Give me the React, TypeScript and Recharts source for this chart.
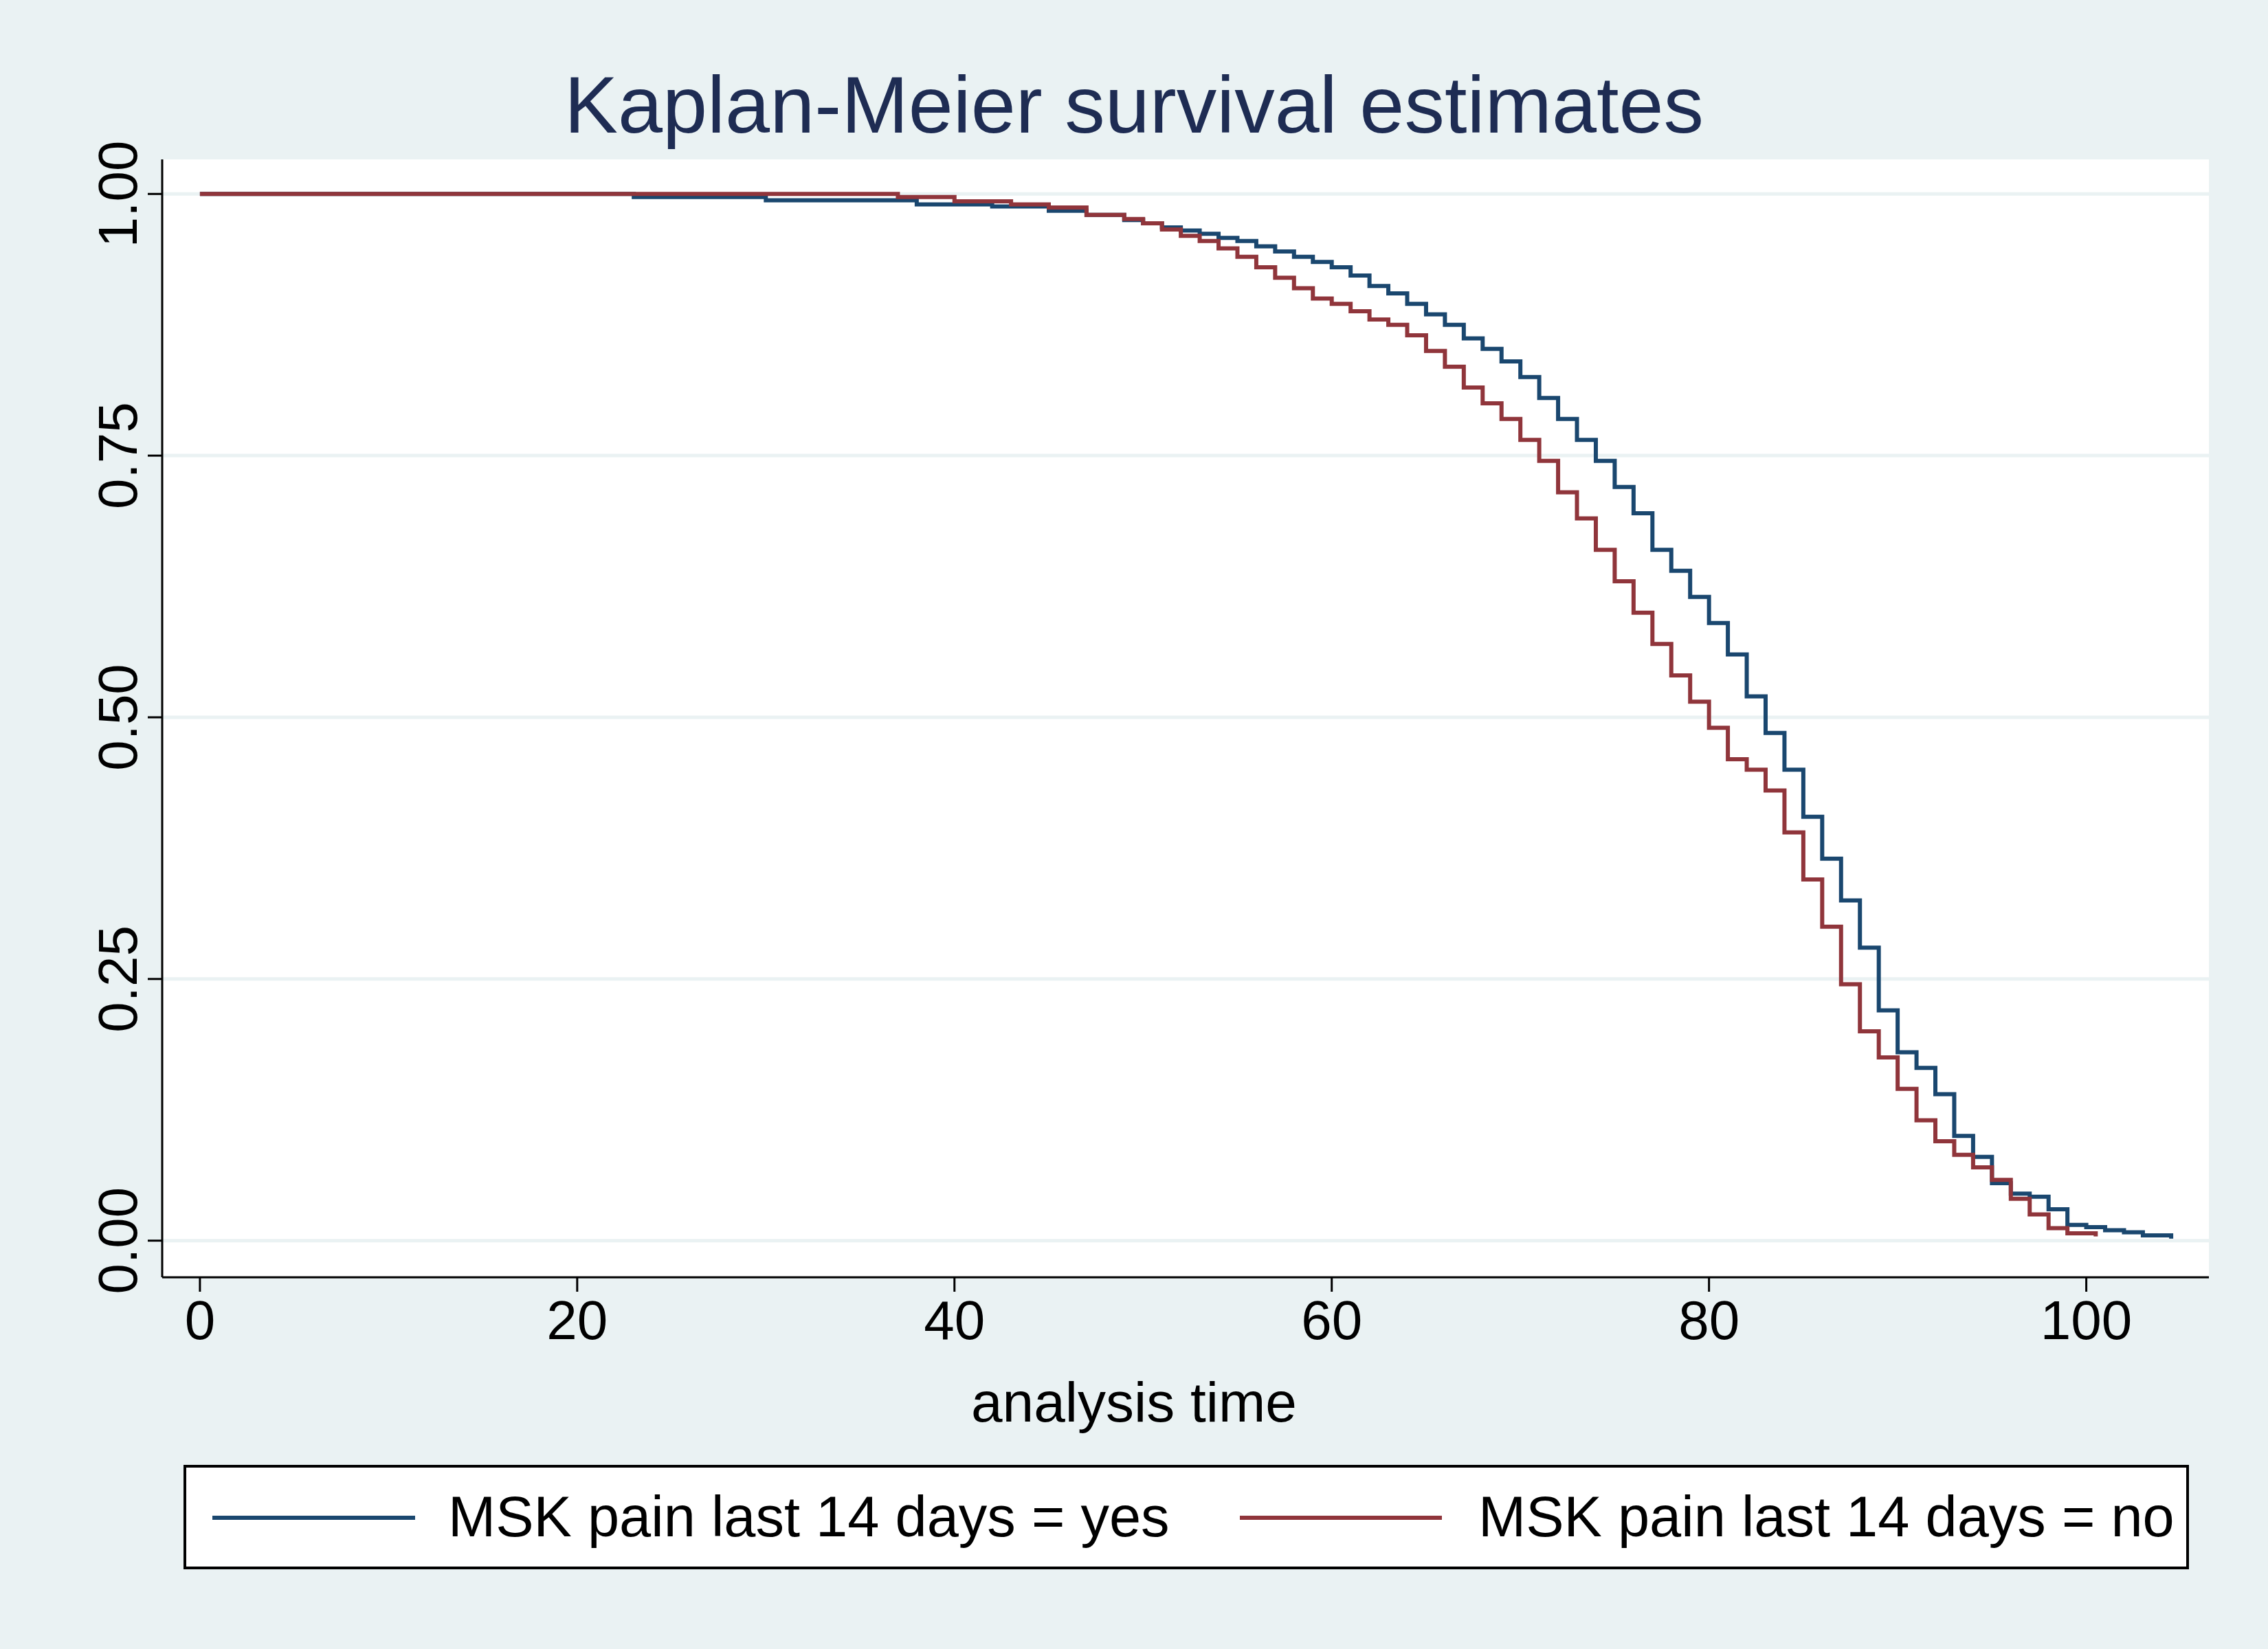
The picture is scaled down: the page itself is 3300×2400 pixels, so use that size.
import { LineChart, Line, XAxis, YAxis, CartesianGrid } from "recharts";

const yesTime = [0, 23, 30, 38, 42, 45, 47, 49, 50, 51, 52, 53, 54, 55, 56, 57, 58, 59, 60, 61, 62, 63, 64, 65, 66, 67, 68, 69, 70, 71, 72, 73, 74, 75, 76, 77, 78, 79, 80, 81, 82, 83, 84, 85, 86, 87, 88, 89, 90, 91, 92, 93, 94, 95, 96, 97, 98, 99, 100, 101, 102, 103, 104.5];
const yesSurv = [1, 0.997, 0.994, 0.99, 0.988, 0.984, 0.98, 0.975, 0.972, 0.968, 0.965, 0.962, 0.958, 0.955, 0.95, 0.945, 0.94, 0.935, 0.93, 0.922, 0.912, 0.905, 0.895, 0.885, 0.875, 0.862, 0.852, 0.84, 0.825, 0.805, 0.785, 0.765, 0.745, 0.72, 0.695, 0.66, 0.64, 0.615, 0.59, 0.56, 0.52, 0.485, 0.45, 0.405, 0.365, 0.325, 0.28, 0.22, 0.18, 0.165, 0.14, 0.1, 0.08, 0.055, 0.045, 0.042, 0.03, 0.015, 0.013, 0.01, 0.008, 0.005, 0.002];
const noTime = [0, 33, 37, 40, 43, 45, 47, 49, 50, 51, 52, 53, 54, 55, 56, 57, 58, 59, 60, 61, 62, 63, 64, 65, 66, 67, 68, 69, 70, 71, 72, 73, 74, 75, 76, 77, 78, 79, 80, 81, 82, 83, 84, 85, 86, 87, 88, 89, 90, 91, 92, 93, 94, 95, 96, 97, 98, 99, 100.5];
const noSurv = [1, 1, 0.997, 0.993, 0.99, 0.987, 0.98, 0.976, 0.972, 0.966, 0.96, 0.955, 0.948, 0.94, 0.93, 0.92, 0.91, 0.9, 0.895, 0.888, 0.88, 0.875, 0.865, 0.85, 0.835, 0.815, 0.8, 0.785, 0.765, 0.745, 0.715, 0.69, 0.66, 0.63, 0.6, 0.57, 0.54, 0.515, 0.49, 0.46, 0.45, 0.43, 0.39, 0.345, 0.3, 0.245, 0.2, 0.175, 0.145, 0.115, 0.095, 0.082, 0.07, 0.058, 0.04, 0.025, 0.012, 0.007, 0.004];
const xTicks = [0, 20, 40, 60, 80, 100];
const yTicks = [0, 0.25, 0.5, 0.75, 1];

const yesData = yesTime.map((t, i) => ({ t, s: yesSurv[i] }));
const noData = noTime.map((t, i) => ({ t, s: noSurv[i] }));

const BLUE = "#1a476f";
const RED = "#90353b";
const FONT = "'Liberation Sans', Arial, sans-serif";

const YTick = (props: any) => {
  const { x, y, payload } = props;
  return (
    <text x={x - 14} y={y} transform={`rotate(-90 ${x - 14} ${y})`} textAnchor="middle" fontSize={80} fill="#000" fontFamily={FONT}>
      {payload.value.toFixed(2)}
    </text>
  );
};

export default function App() {
  return (
    <div style={{ position: "absolute", left: 0, top: 0, width: 3300, height: 2400, background: "#eaf2f3", fontFamily: FONT }}>
      <div style={{ position: "absolute", left: 0, width: 3300, top: 88, textAlign: "center", fontSize: 117, lineHeight: "130px", color: "#1e2c53" }}>
        Kaplan-Meier survival estimates
      </div>
      <LineChart width={3300} height={2400} margin={{ top: 232, right: 86, left: 116, bottom: 421 }}>
        <CartesianGrid vertical={false} fill="#ffffff" stroke="#eaf2f3" strokeWidth={5} horizontalValues={yTicks} />
        <XAxis type="number" dataKey="t" domain={[-2, 106.5]} ticks={xTicks} height={120} stroke="#000" strokeWidth={3}
          tickSize={21} tick={{ fontSize: 80, fill: "#000", fontFamily: FONT, dy: 10 }} allowDuplicatedCategory={false} />
        <YAxis type="number" dataKey="s" domain={[-0.035, 1.033]} ticks={yTicks} width={120} stroke="#000" strokeWidth={3}
          tickSize={21} tick={<YTick />} />
        <Line data={yesData} dataKey="s" type="stepAfter" stroke={BLUE} strokeWidth={6} dot={false} isAnimationActive={false} />
        <Line data={noData} dataKey="s" type="stepAfter" stroke={RED} strokeWidth={6} dot={false} isAnimationActive={false} />
      </LineChart>
      <div style={{ position: "absolute", left: 0, width: 3300, top: 1995, textAlign: "center", fontSize: 82, lineHeight: "92px", color: "#000" }}>
        analysis time
      </div>
      <div style={{ position: "absolute", left: 267, top: 2132, width: 2918, height: 152, boxSizing: "border-box", border: "4px solid #000", background: "#fff" }}>
        <div style={{ position: "absolute", left: 38, top: 70, width: 295, height: 6, background: BLUE }} />
        <div style={{ position: "absolute", left: 381, top: 26, fontSize: 83, lineHeight: "92px" }}>MSK pain last 14 days = yes</div>
        <div style={{ position: "absolute", left: 1533, top: 70, width: 294, height: 6, background: RED }} />
        <div style={{ position: "absolute", left: 1880, top: 26, fontSize: 83, lineHeight: "92px" }}>MSK pain last 14 days = no</div>
      </div>
    </div>
  );
}
